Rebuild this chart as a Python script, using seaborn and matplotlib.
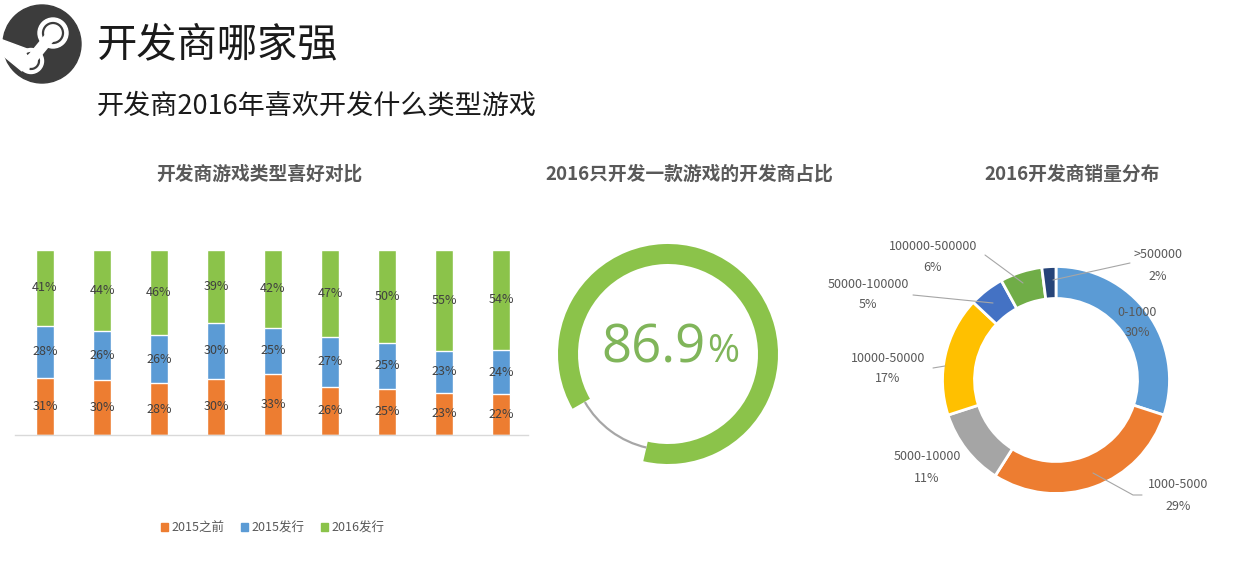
import numpy as np
import pandas as pd
import matplotlib
matplotlib.use("Agg")
import matplotlib.pyplot as plt
from matplotlib.patches import Circle, Polygon, Arc, Patch
import seaborn as sns

# ---- data ----
bar_ids = ["1", "2", "3", "4", "5", "6", "7", "8", "9"]
before_2015 = [31, 30, 28, 30, 33, 26, 25, 23, 22]
released_2015 = [28, 26, 26, 30, 25, 27, 25, 23, 24]
released_2016 = [41, 44, 46, 39, 42, 47, 50, 55, 54]
series_names = ["2015之前", "2015发行", "2016发行"]

single_game_share = 86.9

sales_bins = ["0-1000", "1000-5000", "5000-10000", "10000-50000",
              "50000-100000", "100000-500000", ">500000"]
sales_share = [30, 29, 11, 17, 5, 6, 2]

# ---- style ----
W, H = 1235, 581
ORANGE = "#ED7D31"
BLUE = "#5B9BD5"
GREEN = "#8BC34A"
TITLE_GRAY = "#595959"
donut_colors = ["#5B9BD5", "#ED7D31", "#A5A5A5", "#FFC000",
                "#4472C4", "#70AD47", "#264478"]

sns.set_theme(style="white")
plt.rcParams["font.family"] = ["Noto Sans CJK SC", "DejaVu Sans"]


def box(x0, y0, x1, y1):
    # pixel box (top-left origin) -> figure fraction rect
    return [x0 / W, 1 - y1 / H, (x1 - x0) / W, (y1 - y0) / H]


def fig_xy(x, y):
    return x / W, 1 - y / H


fig = plt.figure(figsize=(W / 100, H / 100), dpi=100)
fig.patch.set_facecolor("white")

# ---- steam logo ----
lax = fig.add_axes(box(0, 0, 90, 90))
lax.set_xlim(0, 90)
lax.set_ylim(90, 0)
lax.set_aspect("equal")
lax.axis("off")
dark = "#3C3C3C"
lax.add_patch(Circle((42, 44), 39, color=dark))
lax.add_patch(Polygon([(0, 39), (0, 53), (22, 71), (27, 49)], color="white"))
lax.plot([31, 50], [60, 37], color="white", lw=8, solid_capstyle="butt")
lax.add_patch(Circle((53, 33), 15, color="white"))
lax.add_patch(Circle((53, 33), 10, fill=False, ec=dark, lw=1.6))
lax.add_patch(Circle((31, 61), 12.5, color="white"))
lax.add_patch(Arc((31, 61), 16, 16, theta1=-120, theta2=100, ec=dark, lw=1.6))

# ---- header texts ----
fig.text(*fig_xy(97, 46), "开发商哪家强", fontsize=29, va="center", ha="left", color="#1a1a1a")
fig.text(*fig_xy(97, 106), "开发商2016年喜欢开发什么类型游戏", fontsize=19.5, va="center",
         ha="left", color="#1a1a1a")

for cx, title in [(259, "开发商游戏类型喜好对比"),
                  (689, "2016只开发一款游戏的开发商占比"),
                  (1072, "2016开发商销量分布")]:
    fig.text(*fig_xy(cx, 174), title, fontsize=13.5, fontweight="bold",
             ha="center", va="center", color=TITLE_GRAY)

# ---- stacked 100% bars ----
ax = fig.add_axes(box(15, 250, 528, 435))
df = pd.DataFrame({"id": bar_ids, "a": before_2015, "b": released_2015, "c": released_2016})
tot = df[["a", "b", "c"]].sum(axis=1)
df["lvl1"] = df["a"] / tot
df["lvl2"] = (df["a"] + df["b"]) / tot
df["lvl3"] = 1.0

bw = 18 / 57
sns.barplot(data=df, x="id", y="lvl3", color=GREEN, saturation=1, width=bw, ax=ax)
sns.barplot(data=df, x="id", y="lvl2", color=BLUE, saturation=1, width=bw, ax=ax)
sns.barplot(data=df, x="id", y="lvl1", color=ORANGE, saturation=1, width=bw, ax=ax)

for i, row in df.iterrows():
    segs = [(0, row["lvl1"], row["a"]), (row["lvl1"], row["lvl2"], row["b"]),
            (row["lvl2"], row["lvl3"], row["c"])]
    for lo, hi, v in segs:
        ax.text(i, (lo + hi) / 2, f"{v}%", ha="center", va="center",
                fontsize=9, color="#404040")

ax.set_xlim(-30 / 57, 483 / 57)
ax.set_ylim(0, 1)
ax.set_xlabel("")
ax.set_ylabel("")
ax.set_xticks([])
ax.set_yticks([])
sns.despine(ax=ax, left=True)
ax.spines["bottom"].set_color("#D9D9D9")
ax.spines["bottom"].set_linewidth(1)
ax.patch.set_alpha(0)

handles = [Patch(color=c) for c in [ORANGE, BLUE, GREEN]]
fig.legend(handles, series_names, loc="center", bbox_to_anchor=fig_xy(273, 528),
           ncol=3, frameon=False, fontsize=9, handlelength=0.55, handleheight=0.55,
           columnspacing=1.3, handletextpad=0.3, labelcolor="#595959")

# ---- ring: single-game developers ----
rax = fig.add_axes(box(548, 234, 788, 474))
rax.pie([single_game_share, 100 - single_game_share], radius=1.1,
        colors=[GREEN, "none"], startangle=257,
        wedgeprops=dict(width=0.2, linewidth=0))
rax.add_patch(Arc((0, 0), 1.92, 1.92, theta1=210, theta2=257, ec="#A6A6A6", lw=1.6))
rax.set_xlim(-1.2, 1.2)
rax.set_ylim(-1.2, 1.2)
rax.text(0.38, -0.08, f"{single_game_share}", ha="right", va="baseline",
         fontsize=38, color="#80B55A", family=["Open Sans", "DejaVu Sans"])
rax.text(0.39, -0.08, "%", ha="left", va="baseline",
         fontsize=28, color="#80B55A", family=["Open Sans", "DejaVu Sans"])

# ---- donut: sales distribution ----
dax = fig.add_axes(box(906, 230, 1206, 530))
dax.pie(sales_share, colors=donut_colors, radius=1.135, startangle=90,
        counterclock=False, wedgeprops=dict(width=0.32, edgecolor="white", linewidth=2))
dax.set_xlim(-1.5, 1.5)
dax.set_ylim(-1.5, 1.5)

label_pos = {
    "0-1000": (0.81, 0.68),
    "1000-5000": (1.22, -1.05),
    "5000-10000": (-1.29, -0.77),
    "10000-50000": (-1.68, 0.22),
    "50000-100000": (-1.88, 0.96),
    "100000-500000": (-1.23, 1.33),
    ">500000": (1.02, 1.25),
}
leaders = {
    "1000-5000": [(0.86, -1.15), (0.77, -1.15), (0.37, -0.93)],
    "10000-50000": [(-1.23, 0.12), (-1.11, 0.14)],
    "50000-100000": [(-1.43, 0.85), (-0.63, 0.77)],
    "100000-500000": [(-0.71, 1.25), (-0.33, 0.97)],
    ">500000": [(0.74, 1.17), (-0.03, 1.0)],
}
for name, share in zip(sales_bins, sales_share):
    lx, ly = label_pos[name]
    dax.text(lx, ly, name, ha="center", va="center", fontsize=9, color=TITLE_GRAY)
    dax.text(lx, ly - 0.21, f"{share}%", ha="center", va="center", fontsize=9,
             color=TITLE_GRAY)
    if name in leaders:
        pts = np.array(leaders[name])
        dax.plot(pts[:, 0], pts[:, 1], color="#A6A6A6", lw=0.8, clip_on=False)

fig.savefig("out.png", dpi=100, facecolor="white")
